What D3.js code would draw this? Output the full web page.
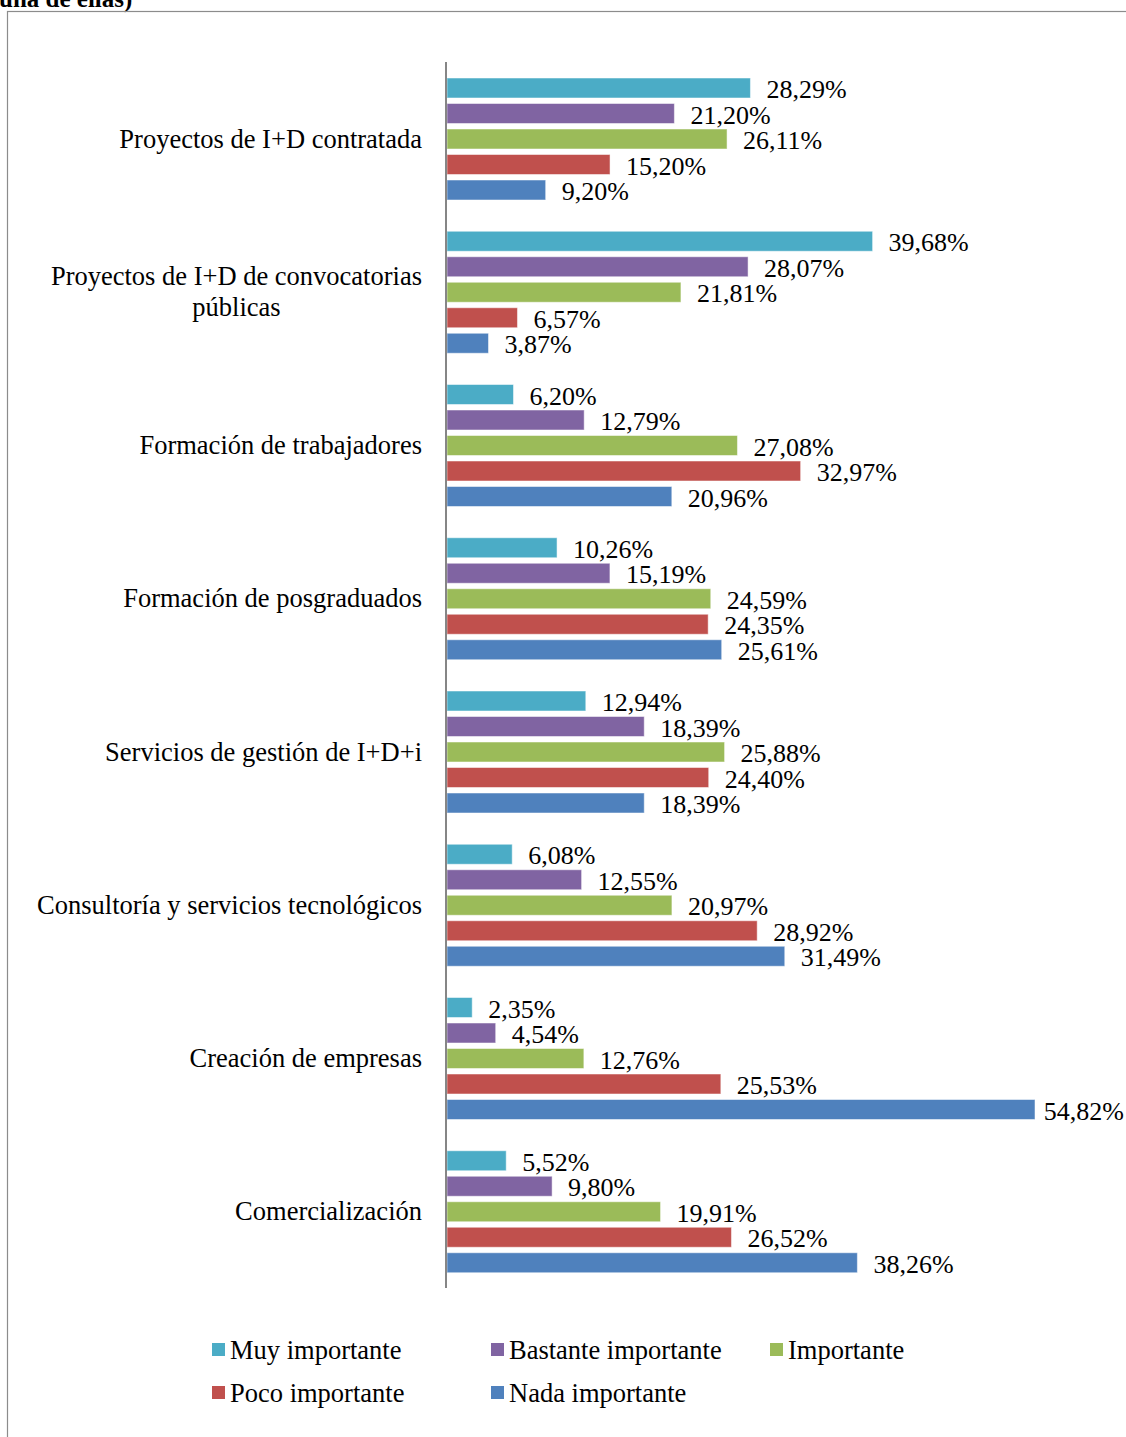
<!DOCTYPE html>
<html><head><meta charset="utf-8">
<script src="https://cdn.jsdelivr.net/npm/d3@7/dist/d3.min.js"></script>
<style>body{margin:0;background:#fff}svg{display:block}</style>
</head><body>
<script>
const categories = [
  "Proyectos de I+D contratada",
  "Proyectos de I+D de convocatorias públicas",
  "Formación de trabajadores",
  "Formación de posgraduados",
  "Servicios de gestión de I+D+i",
  "Consultoría y servicios tecnológicos",
  "Creación de empresas",
  "Comercialización"
];
const categoryLines = [
  ["Proyectos de I+D contratada"],
  ["Proyectos de I+D de convocatorias", "públicas"],
  ["Formación de trabajadores"],
  ["Formación de posgraduados"],
  ["Servicios de gestión de I+D+i"],
  ["Consultoría y servicios tecnológicos"],
  ["Creación de empresas"],
  ["Comercialización"]
];
const seriesNames = ["Muy importante","Bastante importante","Importante","Poco importante","Nada importante"];
const seriesColors = ["#4BACC6","#8064A2","#9BBB59","#C0504D","#4F81BD"];
const muy      = [28.29, 39.68, 6.20, 10.26, 12.94, 6.08, 2.35, 5.52];
const bastante = [21.20, 28.07, 12.79, 15.19, 18.39, 12.55, 4.54, 9.80];
const importante = [26.11, 21.81, 27.08, 24.59, 25.88, 20.97, 12.76, 19.91];
const poco     = [15.20, 6.57, 32.97, 24.35, 24.40, 28.92, 25.53, 26.52];
const nada     = [9.20, 3.87, 20.96, 25.61, 18.39, 31.49, 54.82, 38.26];
const seriesValues = [muy, bastante, importante, poco, nada];

const W = 1126, H = 1437;
const svg = d3.select("body").append("svg").attr("width", W).attr("height", H);
const font = "'Liberation Serif','Times New Roman',serif";
const fsVal = 26, fsCat = 26.5;

// cut-off title fragment (clipped at the top edge as in the source)
svg.append("text").attr("x", -1).attr("y", 7).attr("font-family", font)
  .attr("font-weight", "bold").attr("font-size", 25).attr("fill", "#000").text("una de ellas)");
// frame
svg.append("rect").attr("x", 7.5).attr("y", 11.5).attr("width", W + 10).attr("height", H + 10)
  .attr("fill", "none").attr("stroke", "#8c8c8c").attr("stroke-width", 1.2);

const x0 = 447;
const x = d3.scaleLinear().domain([0, 54.82]).range([x0, 1035]);
const yTop = 62, yBot = 1288;
const y = d3.scaleBand().domain(categories).range([yTop, yBot]).paddingInner(0).paddingOuter(0);
const ySub = d3.scaleBand().domain(seriesNames).range([16, 16 + 127.5]);
const barH = 20;

const g = svg.append("g");
categories.forEach((cat, ci) => {
  seriesNames.forEach((s, si) => {
    const v = seriesValues[si][ci];
    const by = y(cat) + ySub(s);
    g.append("rect").attr("x", x(0)).attr("y", by).attr("width", x(v) - x(0)).attr("height", barH)
      .attr("fill", seriesColors[si]).attr("stroke", "rgba(255,255,255,0.5)").attr("stroke-width", 1);
    const t = g.append("text").attr("x", x(v) + 16).attr("y", by + barH / 2 + 10)
      .attr("font-family", font).attr("font-size", fsVal).attr("fill", "#000")
      .text(v.toFixed(2).replace(".", ",") + "%");
    const w = t.node().getComputedTextLength();
    if (x(v) + 16 + w > W - 2) t.attr("x", W - 2 - w);
  });
});

// axis line
svg.append("line").attr("x1", 446).attr("x2", 446).attr("y1", yTop).attr("y2", yBot)
  .attr("stroke", "#868686").attr("stroke-width", 2);

// category labels
const labelRight = 422;
categories.forEach((cat, ci) => {
  const lines = categoryLines[ci];
  const cy = y(cat) + y.bandwidth() / 2;
  const lh = 31;
  const t = svg.append("text").attr("font-family", font).attr("font-size", fsCat).attr("fill", "#000");
  if (lines.length === 1) {
    t.attr("x", labelRight).attr("y", cy + 9).attr("text-anchor", "end").text(lines[0]);
  } else {
    const tmp = svg.append("text").attr("font-family", font).attr("font-size", fsCat).text(lines[0]);
    const w = tmp.node().getComputedTextLength(); tmp.remove();
    const cx = labelRight - w / 2;
    lines.forEach((ln, li) => {
      t.append("tspan").attr("x", cx).attr("text-anchor", "middle")
        .attr("y", cy + 9 + (li - (lines.length - 1) / 2) * lh).text(ln);
    });
  }
});

// legend
const legendPos = [[212, 1350], [491, 1350], [770, 1350], [212, 1393], [491, 1393]];
seriesNames.forEach((s, si) => {
  const [lx, ly] = legendPos[si];
  svg.append("rect").attr("x", lx).attr("y", ly - 7).attr("width", 13).attr("height", 13).attr("fill", seriesColors[si]);
  svg.append("text").attr("x", lx + 18).attr("y", ly + 9).attr("font-family", font).attr("font-size", fsCat)
    .attr("fill", "#000").text(s);
});
</script>
</body></html>
